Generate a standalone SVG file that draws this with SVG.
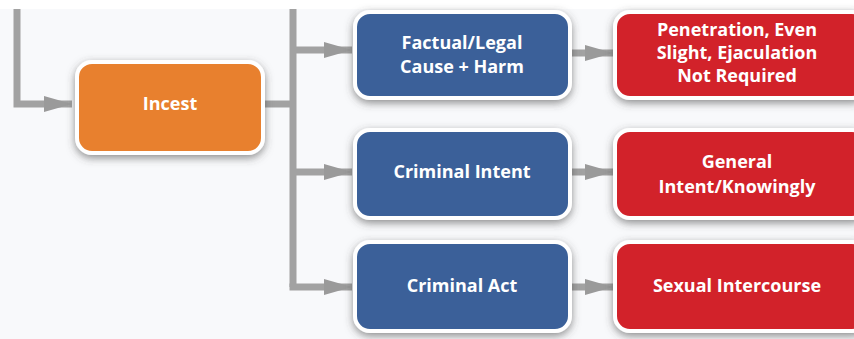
<svg xmlns="http://www.w3.org/2000/svg" width="854" height="339" viewBox="0 0 854 339">
<defs>
<filter id="sh" x="-20%" y="-20%" width="140%" height="150%">
<feDropShadow dx="0" dy="3" stdDeviation="4" flood-color="#444" flood-opacity="0.6"/>
</filter>
<marker id="ah" markerUnits="userSpaceOnUse" markerWidth="30" markerHeight="18" refX="28" refY="8" orient="auto" viewBox="0 0 30 16">
<polygon points="0,0 28,8 0,16" fill="#9a9a9a"/>
</marker>
</defs>
<style>
.box{stroke:#fff;stroke-width:4;filter:url(#sh)}
.org{fill:#e8802e}.blu{fill:#3b6199}.red{fill:#d2232b}
.t{font-family:"Open Sans","Liberation Sans",sans-serif;font-weight:700;font-size:18px;fill:#fff;text-anchor:middle}
.c{fill:none;stroke:#a2a2a2;stroke-width:7}
</style>
<rect width="854" height="339" fill="#f8f9fb"/>
<rect width="854" height="9" fill="#ffffff"/>
<g id="connectors">
<path class="c" d="M17,9 V104 H72" marker-end="url(#ah)"/>
<path class="c" d="M265,104 H293"/>
<path class="c" d="M293,9 V287"/>
<path class="c" d="M293,50 H352" marker-end="url(#ah)"/>
<path class="c" d="M293,172 H352" marker-end="url(#ah)"/>
<path class="c" d="M289.5,287 H352" marker-end="url(#ah)"/>
<path class="c" d="M572,53 H613" marker-end="url(#ah)"/>
<path class="c" d="M572,172 H613" marker-end="url(#ah)"/>
<path class="c" d="M572,287 H613" marker-end="url(#ah)"/>
</g>
<g id="incest">
<rect class="box org" x="77" y="62" width="186" height="91" rx="15"/>
<text class="t" x="170" y="110">Incest</text>
</g>
<g id="factual">
<rect class="box blu" x="355" y="12" width="215" height="86" rx="15"/>
<text class="t" x="462" y="49">Factual/Legal</text>
<text class="t" x="462" y="73">Cause + Harm</text>
</g>
<g id="intent">
<rect class="box blu" x="355" y="130" width="215" height="88" rx="15"/>
<text class="t" x="462" y="178">Criminal Intent</text>
</g>
<g id="act">
<rect class="box blu" x="355" y="242" width="215" height="89" rx="15"/>
<text class="t" x="462" y="292">Criminal Act</text>
</g>
<g id="penetration">
<rect class="box red" x="615" y="12" width="252" height="86" rx="15"/>
<text class="t" x="737" y="36">Penetration, Even</text>
<text class="t" x="737" y="59">Slight, Ejaculation</text>
<text class="t" x="737" y="82">Not Required</text>
</g>
<g id="general">
<rect class="box red" x="615" y="130" width="252" height="88" rx="15"/>
<text class="t" x="737" y="168">General</text>
<text class="t" x="737" y="193">Intent/Knowingly</text>
</g>
<g id="sexual">
<rect class="box red" x="615" y="242" width="252" height="89" rx="15"/>
<text class="t" x="737" y="292">Sexual Intercourse</text>
</g>
</svg>
